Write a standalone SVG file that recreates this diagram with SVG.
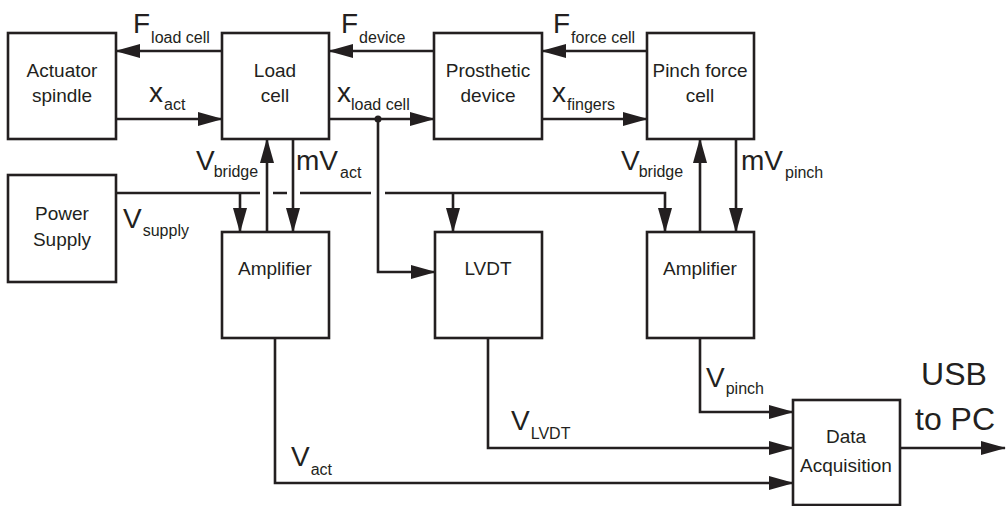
<svg xmlns="http://www.w3.org/2000/svg" width="1007" height="506" viewBox="0 0 1007 506">
<style>
.box{fill:#fff;stroke:#231f20;stroke-width:2.6}
.c{fill:none;stroke:#231f20;stroke-width:2.6}
.a{marker-end:url(#ah)}
text{font-family:"Liberation Sans",Arial,sans-serif;fill:#231f20}
.t{font-size:19px;text-anchor:middle}
.big{font-size:28px}
.sub{font-size:16px}
.usb{font-size:32px;text-anchor:middle}
</style>
<defs>
<marker id="ah" viewBox="0 0 25 14" refX="24" refY="7" markerWidth="25" markerHeight="14" markerUnits="userSpaceOnUse" orient="auto">
<path d="M0,0 L25,7 L0,14 Z" fill="#231f20"/>
</marker>
</defs>
<rect width="1007" height="506" fill="#fff"/>
<g id="connectors">
<path class="c a" d="M222,51 H116"/>
<path class="c a" d="M116,119 H222"/>
<path class="c a" d="M434,51 H329"/>
<path class="c a" d="M329,119 H434"/>
<circle cx="378" cy="119" r="3.5" fill="#231f20"/>
<path class="c a" d="M378,119 V272 H435"/>
<path class="c a" d="M647,51 H542"/>
<path class="c a" d="M542,119 H647"/>
<path class="c a" d="M267,232 V139"/>
<path class="c a" d="M293,139 V232"/>
<path class="c a" d="M700,232 V139"/>
<path class="c a" d="M736,139 V232"/>
<path class="c" d="M116,193 H260 M273,193 H287 M300,193 H371"/>
<path class="c a" d="M385,193 H665 V232"/>
<path class="c a" d="M240,193 V232"/>
<path class="c a" d="M453,193 V232"/>
<path class="c a" d="M275,338 V483 H793"/>
<path class="c a" d="M488,338 V448 H793"/>
<path class="c a" d="M700,338 V412 H793"/>
<path class="c a" d="M900,448 H1005"/>
</g>
<g id="actuator"><rect class="box" x="8" y="33" width="108" height="106"/><text class="t" x="62" y="77">Actuator</text><text class="t" x="62" y="102">spindle</text></g>
<g id="loadcell"><rect class="box" x="222" y="33" width="107" height="106"/><text class="t" x="275" y="77">Load</text><text class="t" x="275" y="102">cell</text></g>
<g id="prosthetic"><rect class="box" x="434" y="33" width="108" height="106"/><text class="t" x="488" y="77">Prosthetic</text><text class="t" x="488" y="102">device</text></g>
<g id="pinchcell"><rect class="box" x="647" y="33" width="107" height="106"/><text class="t" x="700" y="77">Pinch force</text><text class="t" x="700" y="102">cell</text></g>
<g id="power"><rect class="box" x="8" y="175" width="108" height="107"/><text class="t" x="62" y="220">Power</text><text class="t" x="62" y="246">Supply</text></g>
<g id="amp1"><rect class="box" x="222" y="232" width="107" height="106"/><text class="t" x="275" y="275">Amplifier</text></g>
<g id="lvdt"><rect class="box" x="435" y="232" width="107" height="106"/><text class="t" x="488" y="275">LVDT</text></g>
<g id="amp2"><rect class="box" x="647" y="232" width="107" height="106"/><text class="t" x="700" y="275">Amplifier</text></g>
<g id="daq"><rect class="box" x="793" y="400" width="107" height="105"/><text class="t" x="846" y="443">Data</text><text class="t" x="846" y="472">Acquisition</text></g>
<g id="labels">
<text x="133" y="33"><tspan class="big">F</tspan><tspan class="sub" dx="1" dy="10">load cell</tspan></text>
<text x="149" y="102"><tspan class="big">x</tspan><tspan class="sub" dx="1" dy="8">act</tspan></text>
<text x="341" y="33"><tspan class="big">F</tspan><tspan class="sub" dx="1" dy="10">device</tspan></text>
<text x="337" y="102"><tspan class="big">x</tspan><tspan class="sub" dx="0" dy="8">load cell</tspan></text>
<text x="553" y="33"><tspan class="big">F</tspan><tspan class="sub" dx="1" dy="10">force cell</tspan></text>
<text x="552" y="102"><tspan class="big">x</tspan><tspan class="sub" dx="1" dy="8">fingers</tspan></text>
<text x="196" y="170"><tspan class="big">V</tspan><tspan class="sub" dx="-1" dy="7">bridge</tspan></text>
<text x="296" y="170"><tspan class="big">mV</tspan><tspan class="sub" dx="2" dy="8">act</tspan></text>
<text x="123" y="228"><tspan class="big">V</tspan><tspan class="sub" dx="1" dy="8">supply</tspan></text>
<text x="621" y="170"><tspan class="big">V</tspan><tspan class="sub" dx="-1" dy="7">bridge</tspan></text>
<text x="741" y="170"><tspan class="big">mV</tspan><tspan class="sub" dx="2" dy="8">pinch</tspan></text>
<text x="291" y="466"><tspan class="big">V</tspan><tspan class="sub" dx="1" dy="9">act</tspan></text>
<text x="511" y="430"><tspan class="big">V</tspan><tspan class="sub" dx="1" dy="9">LVDT</tspan></text>
<text x="706" y="387"><tspan class="big">V</tspan><tspan class="sub" dx="1" dy="7">pinch</tspan></text>
<text class="usb" x="954" y="385">USB</text>
<text class="usb" x="955" y="430">to PC</text>
</g>
</svg>
